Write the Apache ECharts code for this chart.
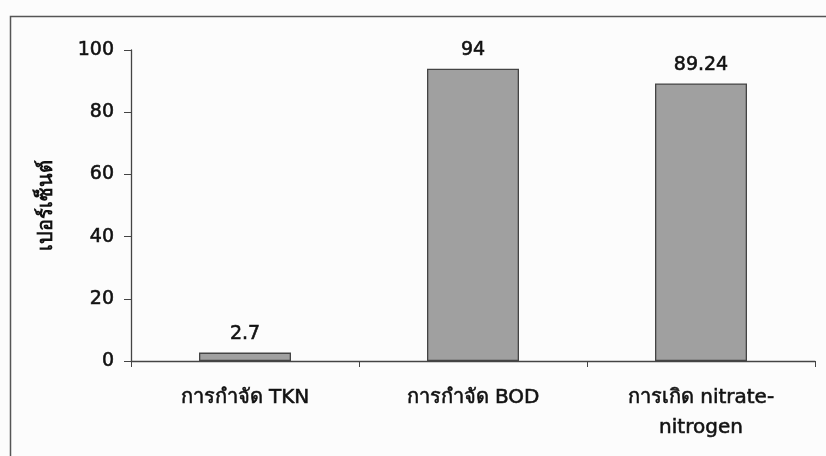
<!DOCTYPE html>
<html><head><meta charset="utf-8">
<script src="https://cdn.jsdelivr.net/npm/echarts@6/dist/echarts.min.js"></script>
<style>html,body{margin:0;padding:0;background:#fff}#c{width:826px;height:456px}</style>
</head><body><div id="c"></div>
<script>
const categories = ['การกำจัด TKN', 'การกำจัด BOD', 'การเกิด nitrate-\nnitrogen'];
const values = [2.7, 94, 89.24];
const valueLabels = ['2.7', '94', '89.24'];
const yAxisName = 'เปอร์เซ็นต์';
const FONT = '"DejaVu Sans", "Liberation Sans", Arial, "Noto Sans", sans-serif';
const thick = {textBorderColor: '#222', textBorderWidth: 0.6};

const chart = echarts.init(document.getElementById('c'), null, {renderer: 'canvas'});
chart.setOption({
  backgroundColor: '#fcfcfc',
  animation: false,
  graphic: [{
    type: 'rect', left: 8, top: 14,
    shape: {width: 830, height: 460},
    style: {fill: 'none', stroke: '#555', lineWidth: 1.5}
  }],
  grid: {left: 131, top: 50, right: 11, bottom: 95},
  xAxis: {
    type: 'category',
    data: categories,
    axisLine: {lineStyle: {color: '#444', width: 1.3}},
    axisTick: {show: true, length: 6, lineStyle: {color: '#444'}},
    axisLabel: Object.assign({color: '#111', fontSize: 20, fontFamily: FONT, margin: 22, lineHeight: 30, interval: 0}, thick)
  },
  yAxis: {
    type: 'value', min: 0, max: 100, interval: 20,
    name: yAxisName, nameLocation: 'middle', nameGap: 74, nameRotate: 90,
    nameTextStyle: {fontSize: 20, fontWeight: 'bold', color: '#111', fontFamily: FONT},
    axisLine: {show: true, lineStyle: {color: '#444', width: 1.3}},
    axisTick: {show: true, length: 7, lineStyle: {color: '#444'}},
    splitLine: {show: false},
    axisLabel: Object.assign({color: '#111', fontSize: 19, fontFamily: FONT, margin: 17}, thick)
  },
  series: [{
    type: 'bar',
    data: values,
    barWidth: 92,
    itemStyle: {color: '#a0a0a0', borderColor: '#444', borderWidth: 1.3},
    label: Object.assign({
      show: true, position: 'top', distance: 9,
      formatter: p => valueLabels[p.dataIndex],
      fontSize: 19, color: '#111', fontFamily: FONT
    }, thick)
  }]
});
</script></body></html>
